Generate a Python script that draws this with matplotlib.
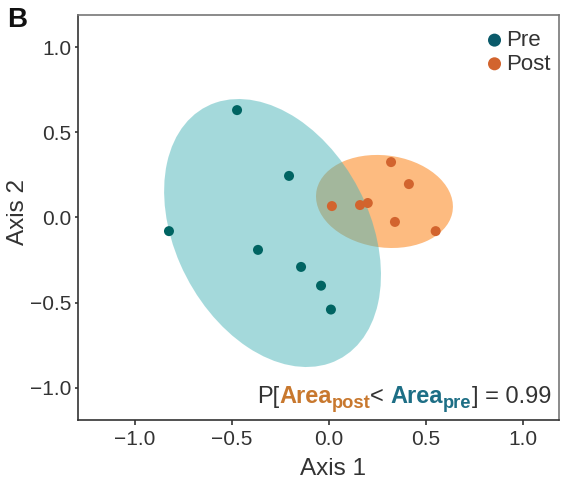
import numpy as np
import matplotlib
matplotlib.use('Agg')
import matplotlib.pyplot as plt
from matplotlib.patches import Ellipse

plt.rcParams['font.family'] = ['Liberation Sans', 'DejaVu Sans']

# ordination scores
pre_x = [-0.474, -0.825, -0.206, -0.366, -0.144, -0.041, 0.010]
pre_y = [0.630, -0.080, 0.244, -0.190, -0.290, -0.400, -0.540]
post_x = [0.320, 0.412, 0.015, 0.160, 0.200, 0.340, 0.550]
post_y = [0.325, 0.196, 0.067, 0.073, 0.085, -0.026, -0.080]

# ellipse centre and (xx, yy, xy) spread for each group
pre_centre = (-0.291, -0.091)
pre_spread = (0.3125, 0.618, -0.1376)
post_centre = (0.286, 0.094)
post_spread = (0.1246, 0.0745, -0.0106)

ticks = [-1.0, -0.5, 0.0, 0.5, 1.0]
tick_labels = ['\u22121.0', '\u22120.5', '0.0', '0.5', '1.0']
prob_text = '0.99'

pre_dot = '#006462'
post_dot = '#d2642e'
text_col = '#333333'


def make_ellipse(centre, spread, **kw):
    """
    Turns a 2x2 spread matrix into an Ellipse patch in data coordinates.
    """
    sxx, syy, sxy = spread
    vals, vecs = np.linalg.eigh(np.array([[sxx, sxy], [sxy, syy]]))
    angle = np.degrees(np.arctan2(vecs[1, 1], vecs[0, 1]))
    return Ellipse(centre, 2 * np.sqrt(vals[1]), 2 * np.sqrt(vals[0]),
                   angle=angle, **kw)


def rainbow_text(ax, x, y, pieces, size):
    """
    Writes text pieces one after another on a shared baseline (axes coords).
    pieces: (text, colour, bold, subscript)
    """
    fig = ax.figure
    renderer = fig.canvas.get_renderer()
    inv = ax.transAxes.inverted()
    for txt, col, bold, sub in pieces:
        fs = size * 0.78 if sub else size
        yy = y - 0.012 if sub else y
        t = ax.text(x, yy, txt, transform=ax.transAxes, fontsize=fs,
                    color=col, fontweight='bold' if bold else 'normal',
                    va='baseline', ha='left')
        ext = t.get_window_extent(renderer=renderer)
        x = inv.transform((ext.x1, ext.y0))[0]


fig = plt.figure(figsize=(5.62, 4.87), dpi=100)
ax = fig.add_axes([0.1388, 0.1376, 0.8559, 0.8316])

ax.add_patch(make_ellipse(post_centre, post_spread, facecolor='#fdbb80',
                          edgecolor='none', zorder=1))
ax.add_patch(make_ellipse(pre_centre, pre_spread, facecolor='#4bb5b9',
                          alpha=0.5, edgecolor='none', zorder=2))

ax.scatter(pre_x, pre_y, s=52, color=pre_dot, zorder=3, label='Pre',
           edgecolors='none')
ax.scatter(post_x, post_y, s=52, color=post_dot, zorder=3, label='Post',
           edgecolors='none')

ax.set_xlim(-1.294, 1.186)
ax.set_ylim(-1.188, 1.188)
ax.set_xticks(ticks, tick_labels)
ax.set_yticks(ticks, tick_labels)
ax.tick_params(axis='both', labelsize=15, colors=text_col, width=1.2)
ax.tick_params(axis='y', length=2.5, pad=2.5)
ax.tick_params(axis='x', length=3.5, pad=3.5)

for side in ['left', 'bottom']:
    ax.spines[side].set_color('#333333')
    ax.spines[side].set_linewidth(1.2)
for side in ['top', 'right']:
    ax.spines[side].set_color('#777777')
    ax.spines[side].set_linewidth(1.2)

ax.set_xlabel('Axis 1', fontsize=17.5, color=text_col)
ax.set_ylabel('Axis 2', fontsize=17.5, color=text_col)
ax.xaxis.set_label_coords(0.53, -0.094, transform=ax.transAxes)
ax.yaxis.set_label_coords(-0.125, 0.513, transform=ax.transAxes)
ax.xaxis.label.set_va('top')
ax.yaxis.label.set_va('center')

leg = ax.legend(loc='upper right', frameon=False, fontsize=16,
                handletextpad=0.2, handlelength=0.6, borderaxespad=0.1,
                labelspacing=0.12, markerscale=1.3, borderpad=0.3)
for t in leg.get_texts():
    t.set_color(text_col)
leg.legend_handles[0].set_facecolor('#0a5a6a')
leg.set_bbox_to_anchor((1.0, 0.985), transform=ax.transAxes)

pieces = [('P[', text_col, False, False),
          ('Area', '#c8782e', True, False),
          ('post', '#c8782e', True, True),
          ('< ', text_col, False, False),
          ('Area', '#1d6e85', True, False),
          ('pre', '#1d6e85', True, True),
          ('] = ' + prob_text, text_col, False, False)]
rainbow_text(ax, 0.372, 0.042, pieces, 17)

fig.text(0.013, 0.985, 'B', fontsize=20, fontweight='bold', va='top',
         ha='left', color='#111111')

fig.savefig('out.png', dpi=100)
